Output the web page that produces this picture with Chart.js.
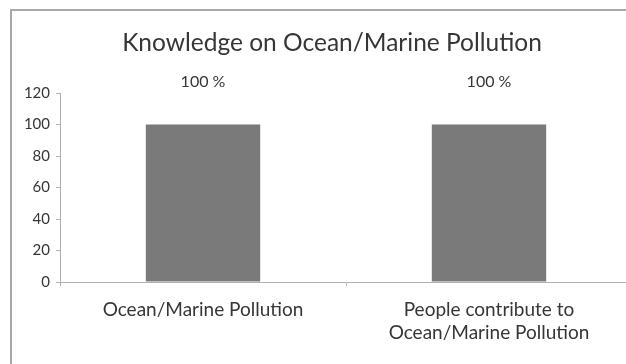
<!DOCTYPE html>
<html>
<head>
<meta charset="utf-8">
<script src="https://cdn.jsdelivr.net/npm/chart.js@4/dist/chart.umd.min.js"></script>
<style>
  html, body { margin: 0; padding: 0; background: #fff; overflow: hidden; width: 626px; height: 364px; }
  #frame { position: absolute; left: 10px; top: 9px; width: 700px; height: 400px;
           border-left: 2px solid #a8a8a8; border-top: 2px solid #a8a8a8; box-sizing: border-box; }
  #wrap { position: absolute; left: 0; top: 0; width: 640px; height: 364px; }
</style>
</head>
<body>
<div id="frame"></div>
<div id="wrap"><canvas id="chart"></canvas></div>
<script>
const chartTitle = 'Knowledge on Ocean/Marine Pollution';
const categories = ['Ocean/Marine Pollution', ['People contribute to', 'Ocean/Marine Pollution']];
const percentValues = [100, 100];
const yTicks = [0, 20, 40, 60, 80, 100, 120];

const textColor = '#363636';
const axisColor = '#b0b0b0';
const fontFamily = 'Lato, "Liberation Sans", sans-serif';

// Title, centred over the frame rather than the canvas
const frameTitle = {
  id: 'frameTitle',
  afterDraw(chart) {
    const ctx = chart.ctx;
    ctx.save();
    ctx.font = '24.5px ' + fontFamily;
    ctx.fillStyle = textColor;
    ctx.textAlign = 'center';
    ctx.textBaseline = 'middle';
    ctx.fillText(chartTitle, 332, 43);
    ctx.restore();
  }
};

// Percentage labels floating above each bar
const valueLabels = {
  id: 'valueLabels',
  afterDatasetsDraw(chart) {
    const ctx = chart.ctx;
    const meta = chart.getDatasetMeta(0);
    ctx.save();
    ctx.font = '16px ' + fontFamily;
    ctx.fillStyle = textColor;
    ctx.textAlign = 'center';
    ctx.textBaseline = 'middle';
    meta.data.forEach((bar, i) => {
      ctx.fillText(percentValues[i] + ' %', bar.x, bar.y - 43);
    });
    ctx.restore();
  }
};

new Chart(document.getElementById('chart'), {
  type: 'bar',
  data: {
    labels: categories,
    datasets: [{
      data: percentValues,
      backgroundColor: '#7a7a7a',
      borderWidth: 0,
      barPercentage: 0.4,
      categoryPercentage: 1.0
    }]
  },
  options: {
    responsive: true,
    maintainAspectRatio: false,
    animation: false,
    layout: { padding: { left: 0, right: 8, top: 93, bottom: 0 } },
    plugins: {
      legend: { display: false },
      tooltip: { enabled: false },
      title: { display: false }
    },
    scales: {
      x: {
        grid: { offset: true, drawOnChartArea: false, drawTicks: true, tickLength: 4, color: axisColor },
        border: { color: axisColor, width: 1 },
        ticks: {
          color: textColor,
          font: { family: fontFamily, size: 19, lineHeight: 1.22 },
          padding: 12,
          maxRotation: 0,
          autoSkip: false
        },
        afterFit(scale) { scale.height = 82; }
      },
      y: {
        min: 0,
        max: 120,
        afterBuildTicks(scale) { scale.ticks = yTicks.map(v => ({ value: v })); },
        grid: { drawOnChartArea: false, drawTicks: true, tickLength: 4, color: axisColor },
        border: { color: axisColor, width: 1 },
        ticks: {
          color: textColor,
          font: { family: fontFamily, size: 15 },
          padding: 6
        },
        afterFit(scale) { scale.width = 60; }
      }
    }
  },
  plugins: [valueLabels, frameTitle]
});
</script>
</body>
</html>
